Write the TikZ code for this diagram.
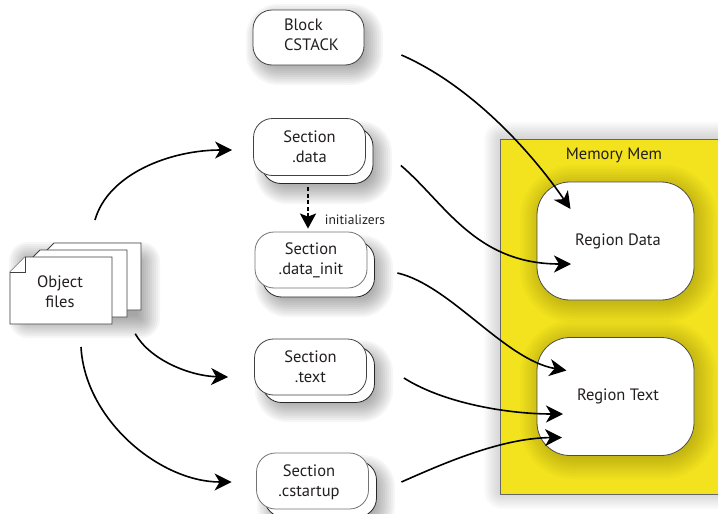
\documentclass[tikz,border=0pt]{standalone}
\usepackage{fontspec}
\setmainfont{PT Sans}
\usetikzlibrary{arrows.meta}
\definecolor{memyellow}{HTML}{F2E31E}
\definecolor{inktext}{HTML}{231F20}
\newcommand{\softshadow}[9]{%
  \foreach \g in {#6} {
    \pgfmathsetmacro\rr{max(#5+\g,1)}
    \fill[black,fill opacity=#9,rounded corners=\rr pt] ({#1-\g+#7},{#2-\g+#8}) rectangle ({#3+\g+#7},{#4+\g+#8});
  }}
\newcommand{\boxshadow}[4]{\softshadow{#1}{#2}{#3}{#4}{19}{13,11,...,-9}{6}{7}{0.034}}
\tikzset{
  labeltext/.style={text=inktext,font=\fontsize{16.5}{20}\selectfont},
  sectbox/.style={draw=black!75,fill=white,line width=0.8pt,rounded corners=19pt,minimum width=112pt,minimum height=56pt,inner sep=0pt,align=center,labeltext},
  sectback/.style={draw=black!85,fill=white,line width=0.8pt,rounded corners=19pt,minimum width=112pt,minimum height=56pt,inner sep=0pt},
  regionbox/.style={draw=black!70,fill=white,line width=0.8pt,rounded corners=33pt,minimum width=157pt,minimum height=118pt,inner sep=0pt,labeltext},
  sheet/.style={draw=black!75,fill=white,line width=0.8pt},
  flow/.style={-{Stealth[length=17pt,width=17pt,inset=5pt]},line width=1.6pt,black},
  initflow/.style={-{Stealth[length=15pt,width=16pt,inset=3pt]},line width=2.2pt,dash pattern=on 4pt off 2.5pt,black},
}
\begin{document}
\begin{tikzpicture}[x=1.0pt,y=-1.0pt]
\useasboundingbox (0,0) rectangle (718,514);
% memory
\softshadow{500}{139}{730}{494}{2}{16,14,...,0}{0}{-1}{0.018}
\node (mem) at (615,316.5) [draw=black!60,fill=memyellow,line width=1pt,minimum width=230pt,minimum height=355pt,inner sep=0pt] {};
\node (memlabel) at (614,155) [labeltext] {Memory Mem};
\softshadow{537}{182}{694}{300}{33}{20,18,...,-4}{3}{3}{0.014}
\softshadow{537}{337}{694}{456}{33}{20,18,...,-4}{3}{3}{0.014}
\node (regdata) at (615.5,241) [regionbox] {\hspace*{5pt}Region Data};
\node (regtext) at (615.5,396.5) [regionbox] {\hspace*{5pt}Region Text};
% object files
\softshadow{16}{248}{141}{318}{6}{13,11,...,-9}{6}{7}{0.034}
\foreach \dx/\dy in {29/-14,15/-7,0/0}
  \draw[sheet,shift={(\dx,\dy)}] (25,257) -- (112,257) -- (112,324) -- (10,324) -- (10,272) -- cycle;
\draw[sheet] (25,257) -- (25,272) -- (10,272);
\node (objfiles) at (60,292) [minimum width=102pt,minimum height=67pt,inner sep=0pt,align=center,labeltext] {Object\\files};
% sections
\boxshadow{253}{10}{364}{65}
\node (cstack) at (308.5,37.5) [sectbox,minimum width=111pt,minimum height=55pt] {};
\node (cstacklabel) at (311.5,35) [align=left,labeltext] {Block\\CSTACK};
\boxshadow{262}{127}{373}{184}
\node (databack) at (317.5,155.5) [sectback,minimum width=111pt] {};
\node (data) at (309.5,147) [sectbox,minimum height=57pt] {Section\\.data};
\boxshadow{262}{241}{374}{297}
\node (initback) at (318.5,269) [sectback] {};
\node (init) at (311,260) [sectbox,draw=black!55] {Section\\.data\_init};
\boxshadow{262}{346}{374}{402}
\node (textback) at (318.5,374.5) [sectback] {};
\node (text) at (310.5,367) [sectbox] {Section\\.text};
\boxshadow{264}{461}{376}{517}
\node (startback) at (320.5,489) [sectback] {};
\node (startup) at (312.5,481) [sectbox,draw=black!55] {};
\node (startuplabel) at (309,482) [align=center,labeltext] {Section\\.cstartup};
\node (initlabel) at (355,220) [text=inktext,font=\fontsize{13.5}{14}\selectfont] {initializers};
% connectors
\draw[flow] ([shift={(35,-72)}]objfiles.center) .. controls (108,174) and (170,150) .. ([shift={(-21,3)}]data.west);
\draw[flow] ([shift={(24,8)}]objfiles.south east) .. controls (150,360) and (190,376) .. ([shift={(-26,10)}]text.west);
\draw[flow] ([shift={(21,55)}]objfiles.center) .. controls (85,420) and (160,482) .. ([shift={(-24.5,1)}]startup.west);
\draw[initflow] ([shift={(-1.5,3.5)}]databack.south -| data.south) -- ([shift={(-1.5,-3)}]init.north -| data.south);
\draw[flow] ([shift={(37,17.5)}]cstack.east) .. controls (470,85) and (530,150) .. ([shift={(-45,-32)}]regdata.center);
\draw[flow] ([shift={(35,18.5)}]data.east) .. controls (445,203) and (475,264) .. ([shift={(-44.5,23)}]regdata.center);
\draw[flow] ([shift={(30,13)}]init.east) .. controls (450,285) and (505,360) .. ([shift={(-49,-26)}]regtext.center);
\draw[flow] ([shift={(37,11)}]text.east) .. controls (445,404) and (510,414) .. ([shift={(-52.5,17.5)}]regtext.center);
\draw[flow] ([shift={(32.5,1)}]startup.east) .. controls (440,465) and (500,438) .. ([shift={(-53.5,41)}]regtext.center);
\end{tikzpicture}
\end{document}
